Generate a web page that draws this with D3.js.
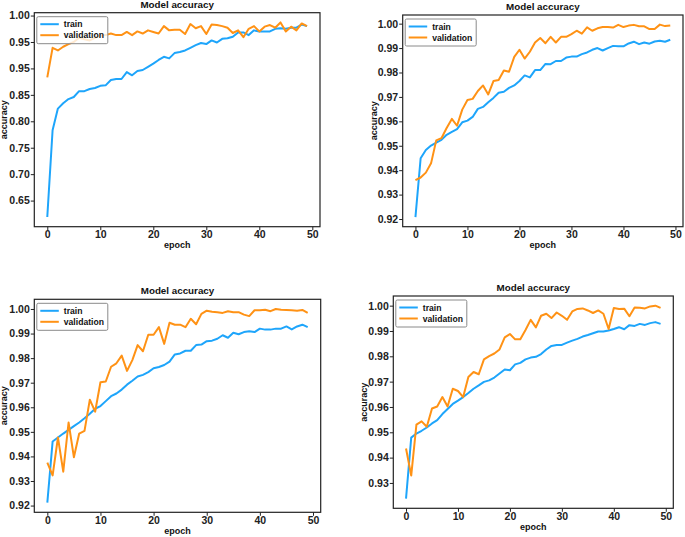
<!DOCTYPE html>
<html><head><meta charset="utf-8">
<script src="https://cdn.jsdelivr.net/npm/d3@7"></script>
<style>
html,body{margin:0;padding:0;background:#fff;}
svg{display:block;font-family:"Liberation Sans",Arial,sans-serif;}
</style>
</head><body>
<svg id="chart" width="685" height="537"></svg>
<script>
// ---------------- data ----------------
const epochs = d3.range(0, 50);
const seriesNames = ["train", "validation"];
const chartTitle = "Model accuracy";
const xLabel = "epoch";
const yLabel = "accuracy";
const xTicks = [0, 10, 20, 30, 40, 50];

const trainA = [0.619,0.783,0.824,0.834,0.842,0.846,0.857,0.857,0.861,0.863,0.867,0.868,0.878,0.880,0.880,0.893,0.887,0.895,0.897,0.903,0.909,0.916,0.922,0.919,0.929,0.931,0.934,0.939,0.944,0.948,0.946,0.953,0.949,0.956,0.957,0.960,0.968,0.968,0.963,0.972,0.970,0.970,0.970,0.975,0.976,0.975,0.977,0.977,0.983,0.980];
const valA = [0.883,0.939,0.934,0.941,0.946,0.950,0.958,0.955,0.953,0.958,0.962,0.963,0.966,0.963,0.963,0.969,0.963,0.970,0.966,0.972,0.969,0.966,0.980,0.972,0.973,0.973,0.965,0.984,0.976,0.980,0.965,0.983,0.982,0.980,0.977,0.967,0.972,0.959,0.975,0.980,0.970,0.979,0.982,0.977,0.987,0.970,0.979,0.972,0.985,0.980];
const yTicksA = [0.65,0.70,0.75,0.80,0.85,0.90,0.95,1.00];
const yLabelsA = ["0.65","0.70","0.75","0.80","0.85","0.95","0.95","1.00"];

const trainB = [0.9208,0.9449,0.9483,0.9501,0.9513,0.9524,0.9545,0.9557,0.9568,0.9596,0.9603,0.9618,0.9651,0.9659,0.9678,0.9696,0.9717,0.9721,0.9737,0.9747,0.9765,0.9788,0.9780,0.9810,0.9810,0.9835,0.9834,0.9847,0.9847,0.9861,0.9865,0.9865,0.9875,0.9882,0.9893,0.9900,0.9890,0.9900,0.9909,0.9907,0.9907,0.9919,0.9926,0.9916,0.9923,0.9918,0.9927,0.9930,0.9926,0.9934];
const valB = [0.9359,0.9370,0.9390,0.9428,0.9522,0.9531,0.9573,0.9610,0.9582,0.9648,0.9687,0.9692,0.9724,0.9747,0.9710,0.9765,0.9769,0.9808,0.9803,0.9864,0.9893,0.9857,0.9885,0.9923,0.9941,0.9920,0.9946,0.9923,0.9946,0.9946,0.9957,0.9971,0.9959,0.9985,0.9971,0.9981,0.9986,0.9986,0.9984,0.9995,0.9986,0.9992,0.9995,0.9989,0.9989,0.9978,0.9978,0.9996,0.9990,0.9992];
const yTicksB = [0.92,0.93,0.94,0.95,0.96,0.97,0.98,0.99,1.00];
const yLabelsB = ["0.92","0.93","0.94","0.95","0.96","0.97","0.98","0.99","1.00"];

const trainC = [0.9212,0.9461,0.9477,0.9493,0.9508,0.9523,0.9538,0.9555,0.9574,0.9594,0.9605,0.9625,0.9645,0.9656,0.9672,0.9692,0.9708,0.9725,0.9732,0.9743,0.9759,0.9764,0.9772,0.9786,0.9815,0.9819,0.9830,0.9830,0.9853,0.9855,0.9869,0.9871,0.9879,0.9893,0.9883,0.9903,0.9897,0.9906,0.9909,0.9906,0.9920,0.9916,0.9916,0.9920,0.9920,0.9929,0.9917,0.9929,0.9936,0.9926];
const valC = [0.9375,0.9323,0.9477,0.9338,0.9538,0.9397,0.9493,0.9504,0.9631,0.9582,0.9702,0.9705,0.9765,0.9779,0.9810,0.9748,0.9792,0.9853,0.9828,0.9895,0.9895,0.9926,0.9858,0.9944,0.9936,0.9936,0.9926,0.9960,0.9938,0.9980,0.9993,0.9989,0.9987,0.9984,0.9991,0.9987,0.9987,0.9977,0.9971,0.9995,0.9995,0.9997,0.9991,1.0000,0.9997,0.9996,0.9995,0.9993,0.9996,0.9984];
const yTicksC = [0.92,0.93,0.94,0.95,0.96,0.97,0.98,0.99,1.00];
const yLabelsC = ["0.92","0.93","0.94","0.95","0.96","0.97","0.98","0.99","1.00"];

const trainD = [0.9238,0.9479,0.9495,0.9506,0.9519,0.9535,0.9548,0.9572,0.9592,0.9612,0.9625,0.9639,0.9655,0.9672,0.9685,0.9699,0.9705,0.9716,0.9732,0.9748,0.9745,0.9768,0.9774,0.9788,0.9795,0.9798,0.9809,0.9827,0.9841,0.9845,0.9845,0.9854,0.9862,0.9869,0.9878,0.9884,0.9891,0.9898,0.9898,0.9902,0.9908,0.9915,0.9907,0.9923,0.9920,0.9928,0.9924,0.9931,0.9935,0.9928];
const valD = [0.9436,0.9329,0.9530,0.9543,0.9522,0.9594,0.9602,0.9639,0.9602,0.9672,0.9663,0.9639,0.9718,0.9738,0.9729,0.9788,0.9801,0.9811,0.9827,0.9875,0.9888,0.9867,0.9867,0.9904,0.9944,0.9914,0.9960,0.9968,0.9951,0.9973,0.9960,0.9944,0.9977,0.9987,0.9989,0.9981,0.9971,0.9981,0.9968,0.9908,0.9991,0.9987,0.9988,0.9958,0.9993,0.9992,0.9989,0.9997,1.0000,0.9991];
const yTicksD = [0.93,0.94,0.95,0.96,0.97,0.98,0.99,1.00];
const yLabelsD = ["0.93","0.94","0.95","0.96","0.97","0.98","0.99","1.00"];

// ---------------- drawing ----------------
const colors = ["#1ea5fb", "#ff9215"];
const panels = [
  {train: trainA, val: valA, yTicks: yTicksA, yLabels: yLabelsA, l: 34.3, r: 320, t: 12.7, b: 226.7, ylx: 4},
  {train: trainB, val: valB, yTicks: yTicksB, yLabels: yLabelsB, l: 402.7, r: 683, t: 15, b: 226.7, ylx: 373.5},
  {train: trainC, val: valC, yTicks: yTicksC, yLabels: yLabelsC, l: 34.3, r: 320.7, t: 299.3, b: 512.3, ylx: 3.5},
  {train: trainD, val: valD, yTicks: yTicksD, yLabels: yLabelsD, l: 393.3, r: 673.3, t: 296, b: 508.3, ylx: 363.5}
];

const svg = d3.select("#chart");
svg.append("rect").attr("width", 685).attr("height", 537).attr("fill", "#fff");

panels.forEach(p => {
  const g = svg.append("g");
  const xExt = d3.extent(epochs);
  const xPad = (xExt[1] - xExt[0]) * 0.05;
  const x = d3.scaleLinear().domain([xExt[0] - xPad, xExt[1] + xPad]).range([p.l, p.r]);
  const all = p.train.concat(p.val);
  const yExt = d3.extent(all);
  const yPad = (yExt[1] - yExt[0]) * 0.05;
  const y = d3.scaleLinear().domain([yExt[0] - yPad, yExt[1] + yPad]).range([p.b, p.t]);

  const clipId = "clip" + Math.round(p.l) + "_" + Math.round(p.t);
  g.append("clipPath").attr("id", clipId).append("rect")
    .attr("x", p.l).attr("y", p.t).attr("width", p.r - p.l).attr("height", p.b - p.t);

  const line = d3.line().x((d, i) => x(epochs[i])).y(d => y(d));
  const lines = g.append("g").attr("clip-path", `url(#${clipId})`);
  [p.train, p.val].forEach((s, k) => {
    lines.append("path").datum(s).attr("d", line)
      .attr("fill", "none").attr("stroke", colors[k]).attr("stroke-width", 2)
      .attr("stroke-linejoin", "round").attr("stroke-linecap", "butt");
  });

  // axes
  const xa = g.append("g").attr("transform", `translate(0,${p.b})`)
    .call(d3.axisBottom(x).tickValues(xTicks).tickFormat(d3.format("d")).tickSize(3.5).tickPadding(0.5));
  const ya = g.append("g").attr("transform", `translate(${p.l},0)`)
    .call(d3.axisLeft(y).tickValues(p.yTicks).tickFormat((d, i) => p.yLabels[i]).tickSize(3.5).tickPadding(1));
  [xa, ya].forEach(a => {
    a.select(".domain").remove();
    a.selectAll(".tick line").attr("stroke", "#222").attr("stroke-width", 1);
    a.selectAll(".tick text").attr("fill", "#222").attr("font-size", "10.5px")
      .attr("font-weight", "bold").attr("font-family", '"Liberation Sans",Arial,sans-serif');
  });

  // frame
  g.append("rect").attr("x", p.l).attr("y", p.t).attr("width", p.r - p.l).attr("height", p.b - p.t)
    .attr("fill", "none").attr("stroke", "#222").attr("stroke-width", 1.2);

  // title and labels
  g.append("text").attr("x", (p.l + p.r) / 2).attr("y", p.t - 5)
    .attr("text-anchor", "middle").attr("font-size", "9.8px").attr("font-weight", "bold")
    .attr("fill", "#111").text(chartTitle);
  g.append("text").attr("x", (p.l + p.r) / 2).attr("y", p.b + 21.5)
    .attr("text-anchor", "middle").attr("font-size", "9px").attr("font-weight", "bold")
    .attr("fill", "#111").text(xLabel);
  g.append("text").attr("transform", `translate(${p.ylx},${(p.t + p.b) / 2}) rotate(-90)`)
    .attr("text-anchor", "middle").attr("dominant-baseline", "central")
    .attr("font-size", "9px").attr("font-weight", "bold")
    .attr("fill", "#111").text(yLabel);

  // legend
  const lx = p.l + 2.5, ly = p.t + 4;
  const lg = g.append("g");
  lg.append("rect").attr("x", lx).attr("y", ly).attr("width", 71).attr("height", 27)
    .attr("rx", 1.5).attr("fill", "#fff").attr("fill-opacity", 0.8)
    .attr("stroke", "#8a8a8a").attr("stroke-width", 1);
  seriesNames.forEach((nm, k) => {
    const yy = ly + 7.5 + k * 11;
    lg.append("line").attr("x1", lx + 3.5).attr("x2", lx + 22).attr("y1", yy).attr("y2", yy)
      .attr("stroke", colors[k]).attr("stroke-width", 2);
    lg.append("text").attr("x", lx + 27).attr("y", yy).attr("dominant-baseline", "central")
      .attr("font-size", "8.6px").attr("font-weight", "bold").attr("fill", "#111").text(nm);
  });
});
</script>
</body></html>
